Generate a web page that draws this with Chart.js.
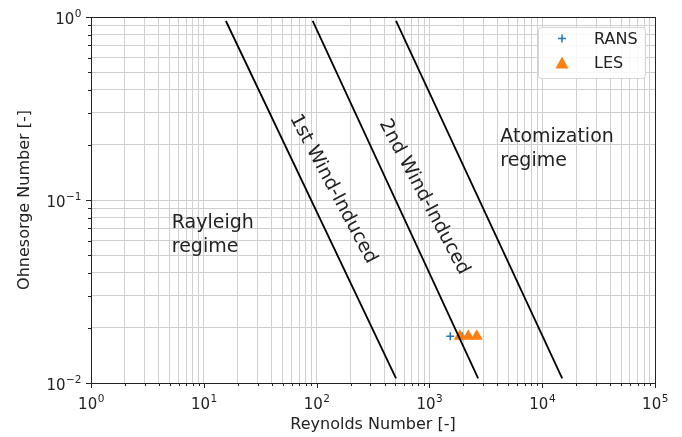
<!DOCTYPE html>
<html lang="en">
<head>
    <meta charset="UTF-8">
    <title>Ohnesorge vs Reynolds regime map</title>
    <script src="https://cdn.jsdelivr.net/npm/chart.js"></script>
    <style>
        body { margin: 0; background: #fff; }
        #regimeChart { display: block; }
    </style>
</head>
<body>
    <canvas id="regimeChart" width="682" height="437"></canvas>

    <script>
    // axis decades and their labels (base 10, exponent drawn raised)
    const xDecades = [1, 10, 100, 1000, 10000, 100000];
    const xTickExp = ['0', '1', '2', '3', '4', '5'];
    const yDecades = [0.01, 0.1, 1];
    const yTickExp = ['\u22122', '\u22121', '0'];

    // regime boundary lines (Re at top / bottom end, shared Oh ends)
    const boundaryRe = [[15.7, 506], [92.3, 2704], [506, 15040]];
    const boundaryOh = [0.951, 0.0106];

    // simulation points
    const ransRe = [1530, 1960];
    const ransOh = [0.018, 0.018];
    const lesRe = [1860, 2210, 2630];
    const lesOh = [0.018, 0.018, 0.018];

    // regime names and where they sit (Re, Oh)
    const regimeNames = [['Rayleigh', 'regime'], ['Atomization', 'regime'], ['1st Wind-Induced'], ['2nd Wind-Induced']];
    const regimeRe = [5.2, 4250, 140, 897];
    const regimeOh = [0.0703, 0.2075, 0.1148, 0.1038];
    const regimeAngle = [0, 0, 62, 62];

    const BLUE = '#1f77b4';
    const ORANGE = '#ff7f0e';
    const TEXT = '#222';
    const FONT = "'DejaVu Sans', sans-serif";

    // 1..9 per decade, last decade only its own value
    function logTicks(decades) {
        const vals = [];
        decades.forEach((d, i) => {
            if (i === decades.length - 1) { vals.push(d); return; }
            for (let k = 1; k <= 9; k++) vals.push(d * k);
        });
        return vals;
    }
    const xTickValues = logTicks(xDecades);
    const yTickValues = logTicks(yDecades);

    const lineSets = boundaryRe.map(pair => ({
        data: pair.map((re, i) => ({ x: re, y: boundaryOh[i] })),
        showLine: true,
        borderColor: '#000',
        borderWidth: 1.8,
        pointRadius: 0,
        order: 0
    }));

    // draws "10" with a raised exponent; align: 'center' or 'right'
    function powerLabel(ctx, exp, px, baseline, align) {
        ctx.font = '15px ' + FONT;
        const wb = ctx.measureText('10').width;
        ctx.font = '10.5px ' + FONT;
        const we = ctx.measureText(exp).width;
        const left = align === 'center' ? px - (wb + we) / 2 : px - wb - we;
        ctx.font = '15px ' + FONT;
        ctx.fillText('10', left, baseline);
        ctx.font = '10.5px ' + FONT;
        ctx.fillText(exp, left + wb + 0.5, baseline - 6.5);
    }

    // ticks, frame, labels and legend
    const extras = {
        id: 'extras',
        afterDatasetsDraw(chart) {
            const { ctx, chartArea: a, scales: { x, y } } = chart;
            ctx.save();
            ctx.fillStyle = TEXT;
            ctx.font = '19px ' + FONT;
            regimeNames.forEach((lines, i) => {
                const px = x.getPixelForValue(regimeRe[i]);
                const py = y.getPixelForValue(regimeOh[i]);
                ctx.save();
                ctx.translate(px, py);
                if (regimeAngle[i]) {
                    ctx.rotate(regimeAngle[i] * Math.PI / 180);
                    ctx.textAlign = 'center';
                    ctx.textBaseline = 'middle';
                } else {
                    ctx.textAlign = 'left';
                    ctx.textBaseline = 'alphabetic';
                }
                lines.forEach((t, j) => ctx.fillText(t, 0, j * 24));
                ctx.restore();
            });

            // frame
            ctx.strokeStyle = '#222';
            ctx.lineWidth = 1;
            ctx.strokeRect(Math.round(a.left) + 0.5, Math.round(a.top) + 0.5,
                Math.round(a.right - a.left), Math.round(a.bottom - a.top));

            // outward tick marks
            ctx.beginPath();
            xTickValues.forEach(v => {
                const px = Math.round(x.getPixelForValue(v)) + 0.5;
                const len = xDecades.includes(v) ? 5 : 3;
                ctx.moveTo(px, a.bottom);
                ctx.lineTo(px, a.bottom + len);
            });
            yTickValues.forEach(v => {
                const py = Math.round(y.getPixelForValue(v)) + 0.5;
                const len = yDecades.includes(v) ? 5 : 3;
                ctx.moveTo(a.left, py);
                ctx.lineTo(a.left - len, py);
            });
            ctx.stroke();

            // decade labels
            ctx.fillStyle = TEXT;
            ctx.textAlign = 'left';
            ctx.textBaseline = 'alphabetic';
            xDecades.forEach((v, i) => {
                powerLabel(ctx, xTickExp[i], x.getPixelForValue(v), a.bottom + 25.5, 'center');
            });
            yDecades.forEach((v, i) => {
                powerLabel(ctx, yTickExp[i], a.left - 10, y.getPixelForValue(v) + 6.5, 'right');
            });

            // legend
            const lx = 538, ly = 27, lw = 107, lh = 51;
            ctx.beginPath();
            ctx.roundRect(lx + 0.5, ly + 0.5, lw, lh, 3);
            ctx.fillStyle = 'rgba(255,255,255,0.85)';
            ctx.fill();
            ctx.strokeStyle = '#d6d6d6';
            ctx.stroke();

            const mx = 562, r1 = 38.5, r2 = 63;
            ctx.strokeStyle = BLUE;
            ctx.lineWidth = 1.5;
            ctx.beginPath();
            ctx.moveTo(mx - 4, r1); ctx.lineTo(mx + 4, r1);
            ctx.moveTo(mx, r1 - 4); ctx.lineTo(mx, r1 + 4);
            ctx.stroke();
            ctx.fillStyle = ORANGE;
            ctx.beginPath();
            ctx.moveTo(mx, r2 - 6.5);
            ctx.lineTo(mx + 6.5, r2 + 5.5);
            ctx.lineTo(mx - 6.5, r2 + 5.5);
            ctx.closePath();
            ctx.fill();

            ctx.fillStyle = TEXT;
            ctx.font = '16px ' + FONT;
            ctx.textBaseline = 'middle';
            ctx.fillText(chart.data.datasets[3].label, 594, r1 + 1);
            ctx.fillText(chart.data.datasets[4].label, 594, r2 + 1);
            ctx.restore();
        }
    };

    const ctx = document.getElementById('regimeChart').getContext('2d');

    new Chart(ctx, {
        type: 'scatter',
        data: {
            datasets: [
                ...lineSets,
                {
                    label: 'RANS',
                    data: ransRe.map((re, i) => ({ x: re, y: ransOh[i] })),
                    pointStyle: 'cross',
                    pointRadius: 4,
                    borderWidth: 1.5,
                    borderColor: BLUE,
                    backgroundColor: BLUE,
                    order: 2
                },
                {
                    label: 'LES',
                    data: lesRe.map((re, i) => ({ x: re, y: lesOh[i] })),
                    pointStyle: 'triangle',
                    pointRadius: 7,
                    borderWidth: 0,
                    borderColor: ORANGE,
                    backgroundColor: ORANGE,
                    order: 1
                }
            ]
        },
        options: {
            responsive: false,
            animation: false,
            layout: { padding: { top: 17, right: 27, left: 0, bottom: 0 } },
            plugins: {
                legend: { display: false },
                tooltip: { enabled: false }
            },
            scales: {
                x: {
                    type: 'logarithmic',
                    min: 1,
                    max: 100000,
                    afterBuildTicks: s => { s.ticks = xTickValues.map(v => ({ value: v })); },
                    afterFit: s => { s.height = 54; s.paddingLeft = 0; s.paddingRight = 0; },
                    grid: { color: '#d0d0d0', lineWidth: 1, drawTicks: false },
                    border: { display: false },
                    ticks: { autoSkip: false, maxRotation: 0, callback: () => '' },
                    title: {
                        display: true,
                        text: 'Reynolds Number [-]',
                        color: TEXT,
                        font: { family: FONT, size: 16 },
                        padding: { top: 0, bottom: 2.4 }
                    }
                },
                y: {
                    type: 'logarithmic',
                    min: 0.01,
                    max: 1,
                    afterBuildTicks: s => { s.ticks = yTickValues.map(v => ({ value: v })); },
                    afterFit: s => { s.width = 91; s.paddingTop = 0; s.paddingBottom = 0; },
                    grid: { color: '#d0d0d0', lineWidth: 1, drawTicks: false },
                    border: { display: false },
                    ticks: { autoSkip: false, callback: () => '' },
                    title: {
                        display: true,
                        text: 'Ohnesorge Number [-]',
                        color: TEXT,
                        font: { family: FONT, size: 16 },
                        padding: { top: 15.4, bottom: 0 }
                    }
                }
            }
        },
        plugins: [extras]
    });
    </script>
</body>
</html>
